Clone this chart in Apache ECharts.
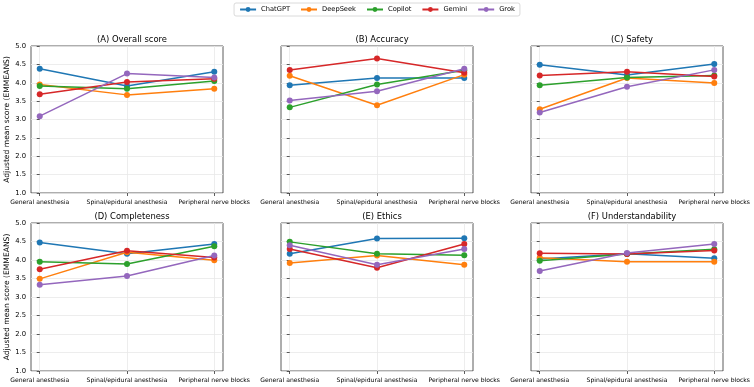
<!DOCTYPE html>
<html><head><meta charset="utf-8">
<script src="https://cdn.jsdelivr.net/npm/echarts@6/dist/echarts.min.js"></script>
<style>html,body{margin:0;padding:0;background:#fff}#c{width:754px;height:387px}</style>
</head><body><div id="c"></div>
<script>
const categories = ['General anesthesia', 'Spinal/epidural anesthesia', 'Peripheral nerve blocks'];
const models = ['ChatGPT', 'DeepSeek', 'Copilot', 'Gemini', 'Grok'];
const panelTitles = ['(A) Overall score', '(B) Accuracy', '(C) Safety', '(D) Completeness', '(E) Ethics', '(F) Understandability'];
const yTicks = [1.0, 1.5, 2.0, 2.5, 3.0, 3.5, 4.0, 4.5, 5.0];

// values per panel: [ChatGPT, DeepSeek, Copilot, Gemini, Grok], each [General, Spinal/epidural, Peripheral]
const overall = [[4.38, 3.91, 4.30], [3.95, 3.67, 3.84], [3.91, 3.84, 4.05], [3.69, 4.02, 4.11], [3.09, 4.25, 4.14]];
const accuracy = [[3.93, 4.13, 4.13], [4.19, 3.39, 4.22], [3.33, 3.95, 4.34], [4.35, 4.66, 4.27], [3.52, 3.77, 4.38]];
const safety = [[4.49, 4.21, 4.51], [3.28, 4.13, 3.99], [3.93, 4.14, 4.20], [4.20, 4.30, 4.17], [3.19, 3.89, 4.35]];
const completeness = [[4.47, 4.17, 4.43], [3.49, 4.21, 3.99], [3.95, 3.89, 4.37], [3.75, 4.25, 4.07], [3.33, 3.57, 4.12]];
const ethics = [[4.17, 4.58, 4.59], [3.92, 4.12, 3.87], [4.49, 4.17, 4.13], [4.30, 3.79, 4.43], [4.40, 3.87, 4.30]];
const understandability = [[4.03, 4.17, 4.05], [4.06, 3.95, 3.95], [3.98, 4.16, 4.29], [4.18, 4.16, 4.26], [3.70, 4.19, 4.43]];
const panels = [overall, accuracy, safety, completeness, ethics, understandability];

const colors = ['#1f77b4', '#ff7f0e', '#2ca02c', '#d62728', '#9467bd'];
const FONT = 'DejaVu Sans';
const lefts = [31, 281, 531], tops = [46, 223], W = 192, Hs = [147, 148];

const grids = [], xAxes = [], yAxes = [], titles = [], series = [];
const catIdx = categories.map((_, i) => i);
panels.forEach((p, k) => {
  const col = k % 3, row = Math.floor(k / 3);
  grids.push({left: lefts[col], top: tops[row], width: W, height: Hs[row], show: true, borderColor: '#333', borderWidth: 0.8, backgroundColor: 'transparent'});
  titles.push({text: panelTitles[k], left: lefts[col] + W / 2, top: tops[row] - 15, textAlign: 'center',
    textStyle: {fontFamily: FONT, fontSize: 8.4, fontWeight: 'normal', color: '#000'}});
  xAxes.push({type: 'value', gridIndex: k, min: -0.1, max: 2.1,
    axisLine: {show: false},
    axisTick: {show: true, length: 3, customValues: catIdx, lineStyle: {color: '#333', width: 0.8}},
    axisLabel: {customValues: catIdx, formatter: v => categories[Math.round(v)], fontFamily: FONT, fontSize: 6.1, color: '#000', margin: 6},
    splitLine: {show: true, lineStyle: {color: '#e8e8e8', width: 0.8}}});
  yAxes.push({type: 'value', gridIndex: k, min: yTicks[0], max: yTicks[yTicks.length - 1], interval: 0.5,
    axisLine: {show: false},
    axisTick: {show: true, length: 3, lineStyle: {color: '#333', width: 0.8}},
    axisLabel: {show: col === 0, formatter: v => v.toFixed(1), fontFamily: FONT, fontSize: 6.8, color: '#000', margin: 5},
    splitLine: {show: true, lineStyle: {color: '#e8e8e8', width: 0.8}},
    name: col === 0 ? 'Adjusted mean score (EMMEANS)' : '', nameLocation: 'middle', nameGap: 18, nameRotate: 90,
    nameTextStyle: {fontFamily: FONT, fontSize: 7.6, color: '#000'}});
  models.forEach((m, j) => {
    series.push({type: 'line', name: m, xAxisIndex: k, yAxisIndex: k,
      data: p[j].map((v, i) => [catIdx[i], v]),
      symbol: 'circle', symbolSize: 6, showSymbol: true,
      lineStyle: {color: colors[j], width: 1.5}, itemStyle: {color: colors[j]},
      emphasis: {disabled: true}, animation: false, z: 2 + j});
  });
});

const chart = echarts.init(document.getElementById('c'), null, {renderer: 'canvas'});
chart.setOption({
  animation: false,
  color: colors,
  title: titles,
  legend: {data: models, top: 3, left: 'center', itemWidth: 16, itemHeight: 6, itemGap: 10,
    borderColor: '#d0d0d0', borderWidth: 0.8, borderRadius: 2, padding: [3, 5],
    textStyle: {fontFamily: FONT, fontSize: 6.7, color: '#000'}},
  grid: grids, xAxis: xAxes, yAxis: yAxes, series: series
});
</script></body></html>
